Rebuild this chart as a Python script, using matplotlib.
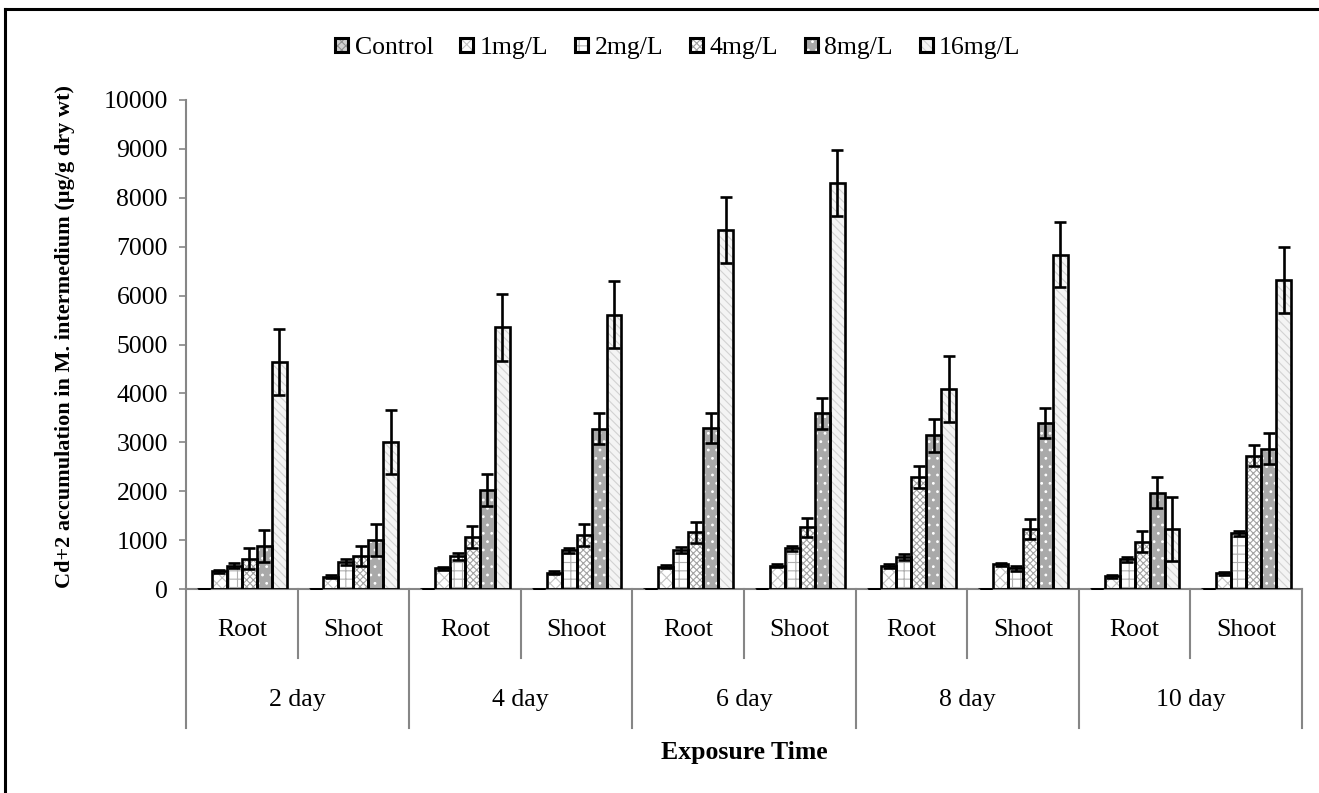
import matplotlib
matplotlib.use('Agg')
import matplotlib.pyplot as plt
from matplotlib.lines import Line2D
from matplotlib.patches import Patch
import numpy as np

plt.rcParams['font.family'] = ['Liberation Serif', 'DejaVu Serif']
plt.rcParams['hatch.linewidth'] = 0.8

# categories
tissues = ["Root", "Shoot"] * 5
days = ["2 day", "4 day", "6 day", "8 day", "10 day"]
series = ["Control", "1mg/L", "2mg/L", "4mg/L", "8mg/L", "16mg/L"]

# mean Cd accumulation (ug/g dry wt), order: 2d root, 2d shoot, 4d root, ...
control = [10, 10, 10, 10, 10, 10, 10, 10, 10, 10]
mg1 = [360, 250, 420, 330, 460, 480, 470, 510, 260, 320]
mg2 = [480, 550, 670, 790, 800, 830, 660, 420, 610, 1140]
mg4 = [620, 670, 1070, 1110, 1160, 1260, 2300, 1230, 970, 2730]
mg8 = [880, 1000, 2030, 3280, 3290, 3590, 3140, 3400, 1970, 2870]
mg16 = [4640, 3010, 5350, 5610, 7340, 8300, 4090, 6840, 1230, 6320]

# standard errors
err_control = [0, 0, 0, 0, 0, 0, 0, 0, 0, 0]
err1 = [30, 30, 40, 30, 40, 40, 40, 30, 30, 30]
err2 = [60, 60, 70, 50, 60, 50, 60, 50, 50, 50]
err4 = [220, 200, 225, 225, 210, 200, 225, 210, 220, 220]
err8 = [320, 330, 330, 310, 310, 310, 330, 310, 320, 310]
err16 = [670, 660, 680, 680, 670, 670, 670, 670, 660, 670]

values = [control, mg1, mg2, mg4, mg8, mg16]
errors = [err_control, err1, err2, err4, err8, err16]

faces = ['#cfcfcf', 'white', 'white', 'white', '#a9a9a9', '#f4f4f4']
hatch_cols = ['#8f8f8f', '#c4c4c4', '#b0b0b0', '#a2a2a2', 'white', '#d2d2d2']
hatches = ['xxxx', 'xxx', '++', 'xxxxx', '..', '\\\\\\\\']

fig = plt.figure(figsize=(13.19, 7.93), dpi=100)
ax = fig.add_axes([186 / 1319, 1 - 589 / 793, (1302 - 186) / 1319, (589 - 100) / 793])

x = np.arange(len(tissues))
w = 0.134
for i in range(len(series)):
    pos = x + (i - 2.5) * w
    ax.bar(pos, values[i], w, color=faces[i], hatch=hatches[i],
           edgecolor=hatch_cols[i], linewidth=0, zorder=2)
    ax.bar(pos, values[i], w, fill=False, edgecolor='black', linewidth=1.9, zorder=3)
    ax.errorbar(pos, values[i], yerr=errors[i], fmt='none', ecolor='black',
                elinewidth=1.9, capsize=4.5, capthick=1.9, zorder=4)

ax.set_xlim(-0.5, len(tissues) - 0.5)
ax.set_ylim(0, 10000)
ax.set_yticks(np.arange(0, 10001, 1000))
ax.tick_params(axis='y', labelsize=18.5, color='#868686', length=5, width=1.2, pad=8)
ax.set_xticks([])
for s in ['top', 'right']:
    ax.spines[s].set_visible(False)
for s in ['left', 'bottom']:
    ax.spines[s].set_color('#868686')
    ax.spines[s].set_linewidth(1.5)

# multi-level category axis
trans = ax.get_xaxis_transform()
px = 1.0 / (589 - 100)
for b in np.arange(-0.5, len(tissues), 1.0):
    outer = int(round(b + 0.5)) % 2 == 0
    depth = -139 * px if outer else -69 * px
    ax.add_line(Line2D([b, b], [0, depth], transform=trans, color='#868686',
                       linewidth=1.5, clip_on=False))
for xi, t in zip(x, tissues):
    ax.text(xi, -41 * px, t, transform=trans, ha='center', va='center', fontsize=18.5)
for k, d in enumerate(days):
    ax.text(2 * k + 0.5, -111 * px, d, transform=trans, ha='center', va='center', fontsize=18.5)

fig.text(744 / 1319, 1 - 752 / 793, "Exposure Time", ha='center', va='center',
         fontsize=18.5, fontweight='bold')
fig.text(65 / 1319, 1 - 337 / 793, "Cd+2 accumulation in M. intermedium (µg/g dry wt)",
         ha='center', va='center', rotation=90, fontsize=16, fontweight='bold')

handles = []
for i, name in enumerate(series):
    fill = Patch(facecolor=faces[i], hatch=hatches[i], edgecolor=hatch_cols[i], linewidth=0)
    box = Patch(fill=False, edgecolor='black', linewidth=2.2)
    handles.append((fill, box))
fig.legend(handles=handles, labels=series, loc='center',
           bbox_to_anchor=(678 / 1319, 1 - 48 / 793),
           ncol=6, frameon=False, fontsize=18.5, handlelength=0.5, handleheight=0.5,
           handletextpad=0.25, columnspacing=1.05)

# outer frame (top and left edges)
fig.add_artist(Line2D([5 / 1319, 5 / 1319], [0, 1 - 9 / 793], transform=fig.transFigure,
                      color='black', linewidth=2.2))
fig.add_artist(Line2D([5 / 1319, 1], [1 - 9 / 793, 1 - 9 / 793], transform=fig.transFigure,
                      color='black', linewidth=2.2))

fig.savefig('out.png', dpi=100)
